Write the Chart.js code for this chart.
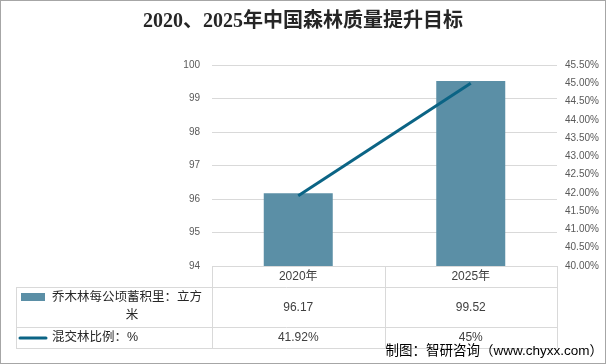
<!DOCTYPE html>
<html>
<head>
<meta charset="utf-8">
<script src="https://cdn.jsdelivr.net/npm/chart.js@4"></script>
<style>
  html, body { margin: 0; padding: 0; background: #fff; }
  #wrap { width: 606px; height: 364px; }
</style>
</head>
<body>
<div id="wrap"><canvas id="myChart" width="606" height="364"></canvas></div>
<script>
// data
const years = ["2020年", "2025年"];
const volumePerHa = [96.17, 99.52];      // 乔木林每公顷蓄积量
const mixedRatio = [41.92, 45];          // 混交林比例 %
const ratioLabels = ["41.92%", "45%"];
const seriesNames = ["乔木林每公顷蓄积里：立方米", "混交林比例：%"];

const barColor = "#5B8FA6";
const lineColor = "#0B6485";
const gridColor = "#D9D9D9";
const textColor = "#404040";
const tickFont = "'Liberation Sans', Arial, sans-serif";
const cjkFont = "'Liberation Sans', 'Noto Sans CJK SC', sans-serif";

// draws the data table under the plot + source note + outer border
const tablePlugin = {
    id: "dataTable",
    afterDraw(chart) {
        const ctx = chart.ctx;
        const area = chart.chartArea;
        const x = chart.scales.x;
        const headTop = area.bottom;
        const row1Top = headTop + 21;
        const row2Top = row1Top + 40;
        const tableBottom = row2Top + 21;
        const labelLeft = 16;

        ctx.save();
        ctx.strokeStyle = gridColor;
        ctx.lineWidth = 1;
        ctx.beginPath();
        // horizontal lines
        ctx.moveTo(area.left, headTop + 0.5); ctx.lineTo(area.right, headTop + 0.5);
        [row1Top, row2Top, tableBottom].forEach(y => {
            ctx.moveTo(labelLeft, y + 0.5); ctx.lineTo(area.right, y + 0.5);
        });
        // vertical lines
        const half = (x.getPixelForValue(1) - x.getPixelForValue(0)) / 2;
        const cols = [area.left];
        years.forEach((_, i) => cols.push(x.getPixelForValue(i) + half));
        cols.forEach(cx => {
            ctx.moveTo(Math.round(cx) + 0.5, headTop); ctx.lineTo(Math.round(cx) + 0.5, tableBottom);
        });
        ctx.moveTo(labelLeft + 0.5, row1Top); ctx.lineTo(labelLeft + 0.5, tableBottom);
        ctx.stroke();

        // header + values
        ctx.fillStyle = textColor;
        ctx.font = "12px " + cjkFont;
        ctx.textAlign = "center";
        ctx.textBaseline = "middle";
        years.forEach((y, i) => {
            const cx = x.getPixelForValue(i);
            ctx.fillText(y, cx, headTop + 11);
            ctx.fillText(volumePerHa[i].toFixed(2), cx, row1Top + 21);
            ctx.fillText(ratioLabels[i], cx, row2Top + 11);
        });

        // legend keys
        ctx.fillStyle = barColor;
        ctx.fillRect(21, row1Top + 6, 24, 8);
        ctx.strokeStyle = lineColor;
        ctx.lineWidth = 3;
        ctx.lineCap = "round";
        ctx.beginPath();
        ctx.moveTo(20, row2Top + 11); ctx.lineTo(46, row2Top + 11);
        ctx.stroke();

        // row labels (wrap the first)
        ctx.fillStyle = "#262626";
        ctx.font = "12.5px " + cjkFont;
        ctx.textAlign = "left";
        const maxW = area.left - 52;
        let line = "", lines = [];
        for (const ch of seriesNames[0]) {
            if (ctx.measureText(line + ch).width > maxW) { lines.push(line); line = ch; }
            else line += ch;
        }
        lines.push(line);
        ctx.fillText(lines[0], 52, row1Top + 11);
        ctx.textAlign = "center";
        for (let k = 1; k < lines.length; k++) {
            ctx.fillText(lines[k], (52 + area.left) / 2, row1Top + 11 + 18 * k);
        }
        ctx.textAlign = "left";
        ctx.fillText(seriesNames[1], 52, row2Top + 11);

        // source
        ctx.font = "13.5px " + cjkFont;
        ctx.textAlign = "right";
        ctx.fillStyle = "#000";
        ctx.fillText("制图：智研咨询（www.chyxx.com）", 603, 351);

        // border
        ctx.strokeStyle = "#A6A6A6";
        ctx.lineWidth = 1;
        ctx.strokeRect(0.5, 0.5, chart.width - 1, chart.height - 1);
        ctx.restore();
    }
};

const ctx = document.getElementById("myChart").getContext("2d");
new Chart(ctx, {
    data: {
        labels: years,
        datasets: [
            {
                type: "line",
                label: seriesNames[1],
                data: mixedRatio,
                yAxisID: "y1",
                borderColor: lineColor,
                borderWidth: 3,
                pointRadius: 0,
                tension: 0,
                order: 0,
            },
            {
                type: "bar",
                label: seriesNames[0],
                data: volumePerHa,
                yAxisID: "y",
                backgroundColor: barColor,
                barPercentage: 0.4,
                categoryPercentage: 1,
                order: 1,
            },
        ],
    },
    options: {
        responsive: false,
        animation: false,
        layout: { padding: 0 },
        plugins: {
            legend: { display: false },
            tooltip: { enabled: false },
            title: {
                display: true,
                text: "2020、2025年中国森林质量提升目标",
                color: "#262626",
                font: { size: 20, weight: "bold", family: "'Liberation Serif', 'Noto Sans CJK SC', serif" },
                padding: { top: 10, bottom: 31 },
            },
        },
        scales: {
            x: {
                grid: { display: false },
                border: { display: false },
                ticks: { display: false },
                afterFit: s => { s.height = 98; },
            },
            y: {
                position: "left",
                min: 94,
                max: 100,
                ticks: { stepSize: 1, color: "#595959", padding: 12, font: { size: 10, family: tickFont } },
                grid: { color: gridColor, drawTicks: false },
                border: { display: false },
                afterFit: s => { s.width = 212; },
            },
            y1: {
                position: "right",
                min: 40,
                max: 45.5,
                ticks: {
                    stepSize: 0.5,
                    color: "#595959",
                    padding: 8,
                    font: { size: 10, family: tickFont },
                    callback: v => v.toFixed(2) + "%",
                },
                grid: { display: false, drawTicks: false },
                border: { display: false },
                afterFit: s => { s.width = 49; },
            },
        },
    },
    plugins: [tablePlugin],
});
</script>
</body>
</html>
